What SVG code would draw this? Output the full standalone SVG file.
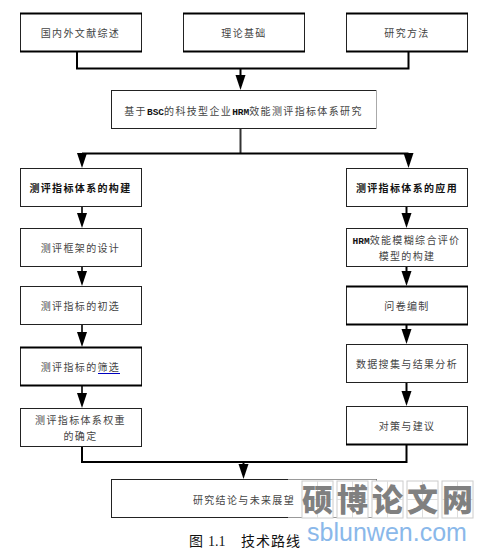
<svg xmlns="http://www.w3.org/2000/svg" width="490" height="552" viewBox="0 0 490 552">
<style>
.b{fill:#fff;stroke:#222;stroke-width:1}
.t{font-family:"Noto Sans CJK SC","Liberation Serif",serif;font-size:10px;fill:#444;text-anchor:middle;letter-spacing:1.35px}
.s{font-weight:bold;fill:#111}
.l{font-family:"Liberation Mono",monospace;font-weight:bold;font-size:9.5px;letter-spacing:0;fill:#111}
.c{fill:none;stroke:#000;stroke-width:2}
.m{fill:none;stroke:#333;stroke-width:2}
.h{fill:none;stroke:#000;stroke-width:2}
.w{font-family:"Noto Sans CJK SC",sans-serif;font-size:31px;font-weight:900;fill:#808080;text-anchor:middle}
.g{fill:#fff;stroke:#ccc;stroke-width:1}
.e{stroke:#ddd;stroke-width:1}
</style>
<defs>
<marker id="a" markerUnits="userSpaceOnUse" markerWidth="16" markerHeight="11" refX="11" refY="5" orient="auto"><path d="M0 0L15 5L0 10Z" fill="#000"/></marker>
</defs>
<g id="connectors">
<path class="c" d="M77 52V68.500H408.500V52"/>
<path class="c" d="M240.500 68V86" marker-end="url(#a)"/>
<path class="m" d="M240.500 129V153"/>
<path class="c" d="M82 153.500H408.500"/>
<path class="c" d="M82 153V164" marker-end="url(#a)"/>
<path class="c" d="M408.500 153V164" marker-end="url(#a)"/>
<path class="m" d="M82 207V224" marker-end="url(#a)"/>
<path class="m" d="M82 267V282" marker-end="url(#a)"/>
<path class="m" d="M82 325V343" marker-end="url(#a)"/>
<path class="m" d="M82 386V404" marker-end="url(#a)"/>
<path class="c" d="M406.500 207V224" marker-end="url(#a)"/>
<path class="c" d="M406.500 267V282" marker-end="url(#a)"/>
<path class="c" d="M406.500 325V340" marker-end="url(#a)"/>
<path class="c" d="M406.500 383V402" marker-end="url(#a)"/>
<path class="c" d="M82 447V462H406.500V445"/>
<path class="c" d="M243.500 462V475" marker-end="url(#a)"/>
</g>
<g id="n1"><rect class="b" x="20.500" y="13.500" width="121" height="38"/><path class="h" d="M20 13.500H142M20 51.500H142"/><text class="t" x="80.500" y="37">国内外文献综述</text></g>
<g id="n2"><rect class="b" x="183.500" y="13.500" width="121" height="38"/><path class="h" d="M183 13.500H305M183 51.500H305"/><text class="t" x="244" y="37">理论基础</text></g>
<g id="n3"><rect class="b" x="346.500" y="13.500" width="121" height="38"/><path class="h" d="M346 13.500H468M346 51.500H468"/><text class="t" x="407" y="37">研究方法</text></g>
<g id="n4"><rect class="b" x="111.500" y="90.500" width="265" height="38"/><path d="M376.500 90V129" stroke="#aaa"/><text class="t" x="243.500" y="115">基于<tspan class="l">BSC</tspan>的科技型企业<tspan class="l">HRM</tspan>效能测评指标体系研究</text></g>
<g id="n5"><rect class="b" x="20.500" y="168.500" width="121" height="38"/><text class="t s" x="80.500" y="192">测评指标体系的构建</text></g>
<g id="n6"><rect class="b" x="20.500" y="228.500" width="121" height="38"/><text class="t" x="80.500" y="252">测评框架的设计</text></g>
<g id="n7"><rect class="b" x="20.500" y="286.500" width="121" height="38"/><text class="t" x="80.500" y="310">测评指标的初选</text></g>
<g id="n8"><rect class="b" x="20.500" y="347.500" width="121" height="38"/><path class="h" d="M20 347.500H142M20 385.500H142"/><text class="t" x="80.500" y="371">测评指标的筛选</text><path d="M98 373.500H120" stroke="#0000c0" stroke-width="1"/></g>
<g id="n9"><rect class="b" x="20.500" y="408.500" width="121" height="38"/><text class="t" x="80.500" y="424">测评指标体系权重</text><text class="t" x="80.500" y="440">的确定</text></g>
<g id="n10"><rect class="b" x="346.500" y="168.500" width="121" height="38"/><text class="t s" x="407" y="192">测评指标体系的应用</text></g>
<g id="n11"><rect class="b" x="346.500" y="228.500" width="121" height="38"/><text class="t" x="406.500" y="244"><tspan class="l">HRM</tspan>效能模糊综合评价</text><text class="t" x="407" y="260">模型的构建</text></g>
<g id="n12"><rect class="b" x="346.500" y="286.500" width="121" height="38"/><path class="h" d="M346 286.500H468M346 324.500H468"/><text class="t" x="407" y="310">问卷编制</text></g>
<g id="n13"><rect class="b" x="346.500" y="344.500" width="121" height="38"/><text class="t" x="407" y="368">数据搜集与结果分析</text></g>
<g id="n14"><rect class="b" x="346.500" y="406.500" width="121" height="38"/><path class="h" d="M346 444.500H468"/><text class="t" x="407" y="430">对策与建议</text></g>
<g id="n15"><rect class="b" x="111.500" y="479.500" width="265" height="38"/><path d="M288 479.500H376.500V517.500H288" fill="none" stroke="#999"/><text class="t" x="244" y="504">研究结论与未来展望</text></g>
<text y="546" style="font-family:'Noto Sans CJK SC','Liberation Serif',serif;font-size:14px;fill:#111">
<tspan x="189">图</tspan><tspan x="208" style="font-family:'Liberation Serif',serif">1.1</tspan><tspan x="241" letter-spacing="1">技术路线</tspan></text>
<g id="watermark">
<rect class="g" x="302" y="481" width="31" height="37"/><rect class="g" x="337" y="481" width="31" height="37"/><rect class="g" x="372" y="481" width="31" height="37"/><rect class="g" x="407" y="481" width="31" height="37"/><rect class="g" x="442" y="481" width="31" height="37"/>
<path class="e" d="M302 499.500H333M337 499.500H368M372 499.500H403M407 499.500H438M442 499.500H473M317.500 481V518M352.500 481V518M387.500 481V518M422.500 481V518M457.500 481V518"/>
<text class="w" x="317.500" y="511">硕</text><text class="w" x="352.500" y="511">博</text><text class="w" x="387.500" y="511">论</text><text class="w" x="422.500" y="511">文</text><text class="w" x="457.500" y="511">网</text>
<text x="387" y="541" style="font-family:'Liberation Sans',sans-serif;font-size:25px;fill:#8ab8ea;text-anchor:middle">sblunwen.com</text>
</g>
</svg>
